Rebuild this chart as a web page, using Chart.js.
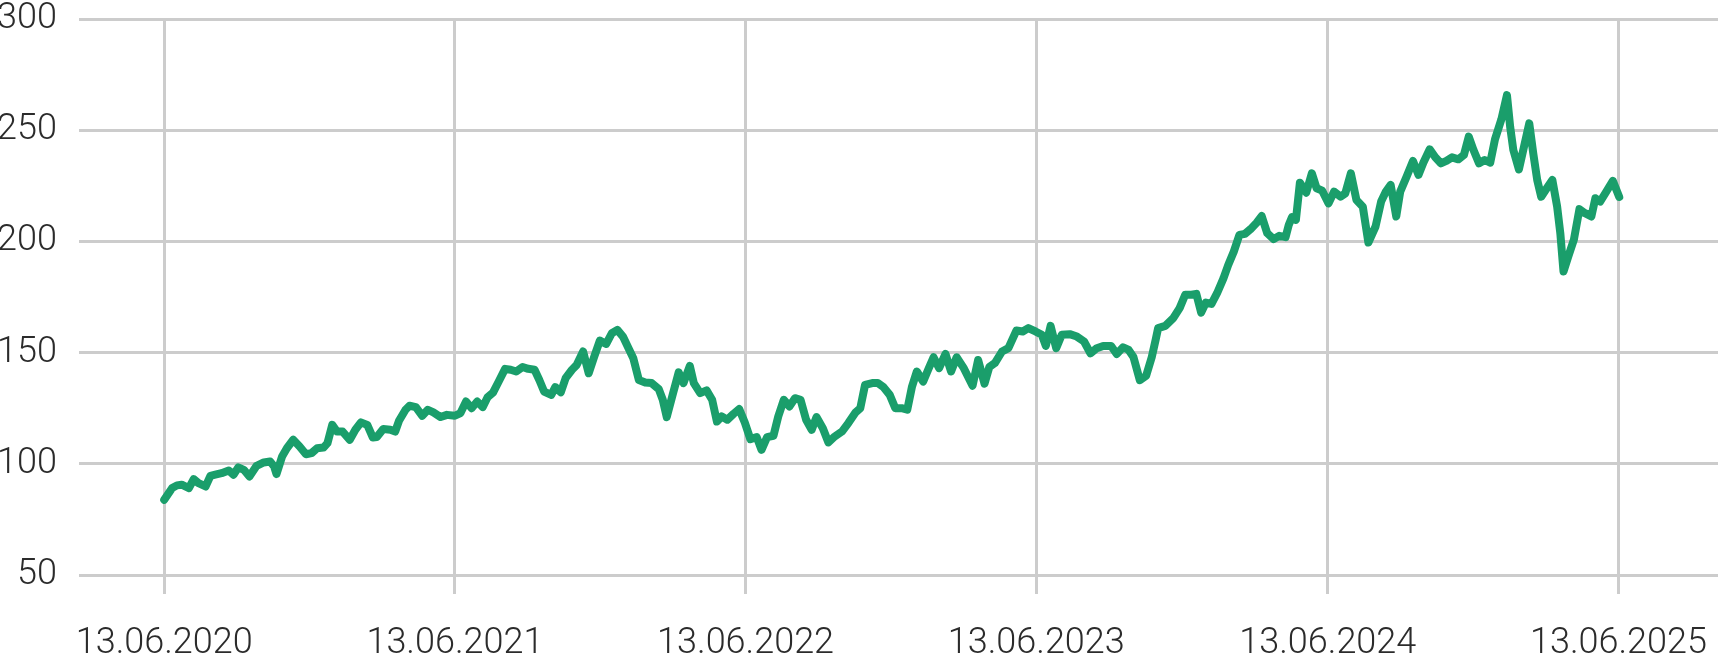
<!DOCTYPE html>
<html>
<head>
<meta charset="utf-8">
<script src="https://cdn.jsdelivr.net/npm/chart.js@4.4.1/dist/chart.umd.min.js"></script>
<style>
  html, body { margin: 0; padding: 0; background: #fff; }
  #wrap { width: 1718px; height: 658px; }
</style>
</head>
<body>
<div id="wrap"><canvas id="chart" width="1718" height="658"></canvas></div>
<script>
// first day of the series, x values are days counted from it
const startDate = '2020-06-13';

// days since startDate
const dayOffsets = [
  0, 10, 16, 22, 31, 37, 43, 52, 58, 64, 72, 81, 87, 93, 100, 107, 116, 125, 133, 138,
  141, 148, 154, 162, 170, 178, 185, 192, 200, 205, 211, 217, 224, 233, 240, 247, 255, 262, 267, 275,
  284, 290, 295, 303, 308, 316, 324, 331, 338, 347, 355, 365, 372, 379, 386, 393, 400, 406, 413, 420,
  428, 435, 442, 450, 457, 465, 471, 477, 486, 491, 498, 504, 512, 518, 526, 533, 540, 547, 555, 562,
  569, 576, 583, 589, 596, 604, 612, 621, 626, 631, 639, 646, 652, 660, 665, 673, 681, 688, 694, 700,
  707, 715, 722, 729, 736, 744, 750, 757, 765, 771, 778, 785, 792, 799, 806, 813, 819, 827, 834, 842,
  851, 859, 868, 874, 880, 889, 896, 903, 911, 918, 926, 933, 939, 945, 953, 960, 966, 973, 981, 988,
  995, 1004, 1015, 1022, 1030, 1036, 1043, 1052, 1060, 1070, 1078, 1085, 1094, 1102, 1107, 1113, 1120, 1127, 1137, 1146,
  1155, 1163, 1171, 1179, 1189, 1196, 1204, 1211, 1217, 1225, 1233, 1240, 1245, 1248, 1257, 1267, 1275, 1282, 1290, 1296,
  1302, 1308, 1315, 1322, 1330, 1336, 1343, 1350, 1357, 1364, 1372, 1378, 1385, 1393, 1400, 1408, 1412, 1416, 1421, 1426,
  1434, 1441, 1447, 1454, 1462, 1469, 1477, 1483, 1490, 1497, 1505, 1512, 1521, 1528, 1534, 1540, 1547, 1552, 1560, 1568,
  1575, 1581, 1589, 1596, 1603, 1610, 1617, 1625, 1632, 1638, 1644, 1651, 1658, 1665, 1671, 1679, 1686, 1690, 1694, 1701,
  1707, 1714, 1719, 1724, 1729, 1736, 1743, 1749, 1753, 1757, 1763, 1770, 1777, 1784, 1792, 1797, 1803, 1810, 1819, 1827
];

const prices = [
  83.8, 89.1, 90.3, 90.6, 89.1, 93.1, 91.3, 89.8, 94.6, 95.1, 95.8, 97.0, 95.1, 98.4, 97.3, 94.3, 99.1, 100.6, 101.0, 98.8,
  95.4, 103.3, 107.0, 110.8, 107.8, 104.3, 104.8, 107.0, 107.3, 109.3, 117.5, 114.5, 114.5, 110.8, 115.3, 118.6, 117.5, 111.8, 112.0, 115.6,
  115.3, 114.5, 119.5, 124.3, 126.1, 125.5, 121.6, 124.3, 123.1, 121.0, 122.0, 121.6, 122.8, 128.0, 125.0, 128.0, 125.5, 129.9, 132.1, 137.0,
  142.7, 142.3, 141.5, 143.5, 142.7, 142.3, 137.7, 132.5, 131.0, 134.5, 132.2, 138.5, 142.3, 144.5, 150.5, 140.7, 148.2, 155.4, 153.9, 158.7,
  160.2, 157.2, 152.0, 147.5, 137.7, 136.6, 136.3, 133.6, 128.8, 121.0, 131.8, 141.1, 136.3, 144.0, 136.3, 131.8, 133.0, 128.8, 119.0, 121.3,
  119.8, 122.5, 124.6, 118.6, 111.1, 112.0, 106.3, 112.0, 112.6, 121.3, 128.8, 125.8, 129.5, 128.8, 119.8, 115.3, 121.0, 116.0, 109.6, 112.3,
  114.5, 118.3, 123.1, 125.0, 135.5, 136.3, 136.3, 134.5, 131.0, 125.0, 125.0, 124.3, 134.8, 141.5, 137.0, 143.0, 147.9, 143.0, 149.4, 141.5,
  147.9, 143.0, 135.1, 146.7, 136.0, 143.5, 145.3, 150.5, 152.0, 159.9, 159.5, 161.0, 159.5, 158.0, 153.0, 162.0, 152.0, 158.0, 158.3, 157.2,
  155.0, 149.7, 152.0, 153.0, 153.0, 149.4, 152.4, 151.2, 148.0, 137.6, 139.6, 148.0, 156.0, 161.0, 162.0, 165.5, 170.0, 176.0, 176.0, 176.4,
  168.0, 172.5, 171.9, 176.7, 183.4, 189.4, 195.4, 202.9, 203.4, 205.5, 208.5, 211.4, 203.7, 201.0, 202.5, 201.9, 207.4, 210.9, 209.7, 226.4,
  221.9, 230.6, 223.9, 222.8, 217.1, 222.4, 220.1, 221.6, 230.6, 218.6, 215.6, 199.5, 206.7, 217.9, 222.4, 225.4, 211.2, 222.4, 229.1, 236.2,
  229.9, 235.4, 241.4, 237.8, 235.1, 236.2, 237.8, 236.9, 238.9, 247.1, 241.1, 235.1, 236.6, 235.4, 245.9, 254.9, 265.8, 251.6, 241.1, 232.4,
  241.9, 253.1, 239.6, 227.6, 220.1, 223.9, 227.6, 215.7, 203.7, 186.5, 193.2, 200.7, 214.5, 212.7, 211.2, 219.4, 217.9, 221.9, 227.2, 220.0
];

// x-axis ticks: one per year, same day and month as the start
const tickYears = [2020, 2021, 2022, 2023, 2024, 2025];
const yTicks = [50, 100, 150, 200, 250, 300];

const DAY = 86400000;
const t0 = Date.parse(startDate);
const tickDays = tickYears.map(y => Math.round((Date.UTC(y, 5, 13) - t0) / DAY));

const fmt = (d) => {
  const dt = new Date(t0 + d * DAY);
  const dd = String(dt.getUTCDate()).padStart(2, '0');
  const mm = String(dt.getUTCMonth() + 1).padStart(2, '0');
  return dd + '.' + mm + '.' + dt.getUTCFullYear();
};

const gridColor = '#cccccc';
const font = { family: 'Roboto', weight: '300', size: 36 };

new Chart(document.getElementById('chart'), {
  type: 'line',
  data: {
    datasets: [{
      data: dayOffsets.map((d, i) => ({ x: d, y: prices[i] })),
      borderColor: '#1a9e6b',
      borderWidth: 8,
      borderJoinStyle: 'round',
      borderCapStyle: 'round',
      pointRadius: 0,
      tension: 0,
      fill: false
    }]
  },
  options: {
    responsive: false,
    animation: false,
    events: [],
    layout: { padding: { top: 19, right: 0, bottom: 0, left: 0 } },
    plugins: { legend: { display: false }, tooltip: { enabled: false } },
    scales: {
      x: {
        type: 'linear',
        min: -107,
        max: 1951,
        afterBuildTicks: (scale) => { scale.ticks = tickDays.map(v => ({ value: v })); },
        // labels fit inside the canvas, so no side padding is needed
        afterFit: (scale) => { scale.height = 83; scale.paddingLeft = 0; scale.paddingRight = 0; },
        border: { display: false },
        grid: { color: gridColor, lineWidth: 3, tickLength: 19, drawTicks: true },
        ticks: {
          autoSkip: false,
          maxRotation: 0,
          padding: 28,
          color: '#2b2b2b',
          font: font,
          callback: (v) => fmt(v)
        }
      },
      y: {
        min: 50,
        max: 300,
        afterBuildTicks: (scale) => { scale.ticks = yTicks.map(v => ({ value: v })); },
        afterFit: (scale) => { scale.width = 79; scale.paddingTop = 0; scale.paddingBottom = 0; },
        border: { display: false },
        grid: { color: gridColor, lineWidth: 3, drawTicks: false },
        ticks: {
          padding: 22,
          color: '#2b2b2b',
          font: font
        }
      }
    }
  }
});
</script>
</body>
</html>
